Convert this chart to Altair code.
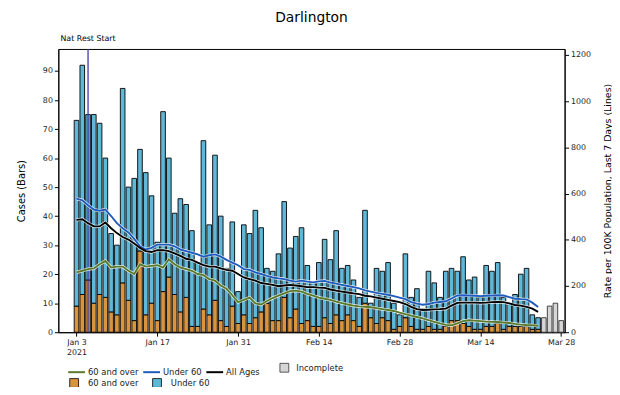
import altair as alt
import pandas as pd

# ---------------- data ----------------
start_date = "2021-01-03"
# complete days Jan 3 .. Mar 23 (81 days)
cases_total = [
    73, 92, 75, 75, 72, 60, 34, 30, 84, 50,
    53, 63, 55, 47, 31, 76, 60, 41, 46, 44,
    35, 24, 66, 37, 61, 40, 22, 38, 14, 37,
    34, 42, 36, 22, 21, 27, 45, 29, 33, 36,
    23, 17, 24, 32, 25, 35, 22, 23, 18, 12,
    42, 10, 22, 21, 24, 10, 6, 27, 12, 15,
    8, 21, 17, 12, 21, 22, 21, 26, 18, 19,
    12, 23, 21, 24, 12, 10, 13, 20, 22, 6, 5,
]
cases_60_over = [
    9, 13, 18, 10, 13, 12, 7, 6, 17, 11,
    4, 28, 6, 10, 4, 14, 19, 13, 7, 12,
    2, 2, 8, 6, 11, 4, 2, 9, 3, 6,
    3, 5, 7, 10, 4, 4, 12, 5, 8, 3,
    4, 2, 2, 5, 3, 6, 4, 6, 4, 2,
    10, 5, 3, 5, 4, 1, 2, 5, 2, 1,
    1, 2, 1, 1, 2, 4, 4, 3, 2, 1,
    1, 2, 2, 3, 1, 2, 2, 2, 2, 1, 1,
]
# incomplete days Mar 24 .. Mar 28
cases_incomplete = [5, 9, 10, 4]

rate_60_over = [
    259, 266, 273, 276, 294, 308, 280, 284, 284, 266,
    252, 294, 284, 287, 290, 280, 315, 294, 280, 273,
    266, 252, 247, 230, 223, 202, 188, 160, 130, 140,
    150, 125, 120, 135, 148, 158, 168, 178, 180, 176,
    166, 158, 150, 145, 140, 132, 126, 120, 115, 112,
    110, 108, 104, 100, 96, 92, 85, 78, 72, 66,
    60, 52, 45, 38, 32, 30, 38, 48, 52, 50,
    48, 46, 45, 44, 42, 40, 36, 33, 31, 30, 28,
]
rate_under_60 = [
    578, 571, 550, 531, 526, 531, 503, 472, 450, 432,
    404, 372, 358, 365, 379, 379, 379, 372, 358, 351,
    344, 337, 327, 333, 337, 327, 313, 301, 290, 273,
    270, 259, 252, 244, 237, 233, 230, 223, 219, 223,
    219, 216, 220, 222, 215, 210, 205, 200, 195, 190,
    181, 176, 170, 166, 162, 156, 150, 143, 130, 124,
    119, 122, 128, 131, 134, 146, 159, 160, 159, 158,
    156, 158, 159, 160, 159, 152, 145, 143, 142, 128, 109,
]
rate_all_ages = [
    486, 489, 472, 458, 458, 475, 450, 429, 412, 401,
    384, 365, 351, 347, 355, 355, 351, 341, 330, 318,
    313, 301, 290, 284, 284, 276, 270, 266, 252, 237,
    230, 223, 213, 209, 205, 199, 202, 205, 202, 199,
    195, 195, 193, 192, 185, 180, 176, 172, 168, 165,
    158, 155, 150, 145, 140, 135, 130, 122, 110, 100,
    96, 97, 99, 100, 102, 115, 127, 128, 128, 128,
    127, 128, 130, 131, 130, 125, 118, 115, 110, 102, 88,
]

x_tick_days = [0, 14, 28, 42, 56, 70, 84]
x_tick_labels = ["Jan 3|2021", "Jan 17", "Jan 31", "Feb 14", "Feb 28", "Mar 14", "Mar 28"]
event_day = [2]
event_label = ["Nat Rest Start"]

bar_series = ["60 and over ", "Under 60 "]
line_series = ["60 and over", "Under 60", "All Ages"]

# ---------------- tables ----------------
n_complete = len(cases_total)
bar_rows = []
for d in range(n_complete):
    bar_rows.append({"day": d, "lo": 0, "hi": cases_60_over[d], "bar_group": bar_series[0]})
    bar_rows.append({"day": d, "lo": cases_60_over[d], "hi": cases_total[d], "bar_group": bar_series[1]})
bars_df = pd.DataFrame(bar_rows)

inc_df = pd.DataFrame({
    "day": list(range(n_complete, n_complete + len(cases_incomplete))),
    "cases": cases_incomplete,
    "status": ["Incomplete"] * len(cases_incomplete),
})

line_rows = []
for name, vals in zip(line_series, [rate_60_over, rate_under_60, rate_all_ages]):
    for d, v in enumerate(vals):
        line_rows.append({"day": d, "rate": v, "line_group": name})
lines_df = pd.DataFrame(line_rows)

event_df = pd.DataFrame({"day": event_day, "label": event_label})

# ---------------- styling ----------------
FONT = "DejaVu Sans"
W, H = 513, 287
XDOM = [-3.15, 84.6]
YL_DOM = [0, 97.6]
YR_DOM = [0, 1226]
C_OVER, C_UNDER, C_INC = "#d8943f", "#5fb8d8", "#d6d6d6"
L_OVER, L_UNDER, L_ALL = "#587a2a", "#1f5bbd", "#000000"

lab_arr = "[" + ",".join("'" + s + "'" for s in x_tick_labels) + "]"
x_axis = alt.Axis(values=x_tick_days, labelExpr="split(" + lab_arr + "[round(datum.value/14)], '|')",
                  title=None, grid=False, tickSize=4, labelPadding=2, labelFontSize=8,
                  labelLineHeight=11, labelBaseline="top")
x_scale = alt.Scale(domain=XDOM, nice=False, zero=False)

yl_axis = alt.Axis(values=list(range(0, 91, 10)), title="Cases (Bars)", grid=False,
                   tickSize=4, labelFontSize=8, titleFontSize=10, titleFontWeight="normal",
                   titlePadding=16)
yl_scale = alt.Scale(domain=YL_DOM, nice=False)
yr_axis = alt.Axis(values=list(range(0, 1201, 200)), orient="right", grid=False, format="d",
                   title="Rate per 100K Population, Last 7 Days (Lines)", titleAngle=270,
                   titleBaseline="bottom",
                   tickSize=4, labelFontSize=8, titleFontSize=9.5, titleFontWeight="normal",
                   titlePadding=22)
yr_scale = alt.Scale(domain=YR_DOM, nice=False)

bars = alt.Chart(bars_df).transform_calculate(
    x0="datum.day - 0.4", x1="datum.day + 0.4"
).mark_bar(stroke="black", strokeWidth=0.9).encode(
    x=alt.X("x0:Q", scale=x_scale, axis=x_axis),
    x2="x1:Q",
    y=alt.Y("hi:Q", scale=yl_scale, axis=yl_axis),
    y2="lo:Q",
    fill=alt.Fill("bar_group:N", scale=alt.Scale(domain=bar_series, range=[C_OVER, C_UNDER]),
                  legend=alt.Legend(orient="none", legendX=11, legendY=333, direction="horizontal",
                                    columns=2, title=None, symbolType="square", symbolSize=80,
                                    symbolStrokeColor="black", symbolStrokeWidth=0.8,
                                    labelFontSize=8.5, labelOffset=9, columnPadding=11,
                                    padding=0)),
)

incomplete = alt.Chart(inc_df).transform_calculate(
    x0="datum.day - 0.4", x1="datum.day + 0.4", base="0"
).mark_bar(stroke="#333333", strokeWidth=0.9).encode(
    x=alt.X("x0:Q", scale=x_scale, axis=x_axis),
    x2="x1:Q",
    y=alt.Y("cases:Q", scale=yl_scale, axis=yl_axis),
    y2="base:Q",
    fill=alt.Fill("status:N", scale=alt.Scale(domain=["Incomplete"], range=[C_INC]),
                  legend=alt.Legend(orient="none", legendX=224, legendY=318, direction="horizontal",
                                    title=None, symbolType="square", symbolSize=80,
                                    symbolStrokeColor="#333333", symbolStrokeWidth=0.8,
                                    labelFontSize=8.5, labelOffset=7, padding=0)),
)

rule = alt.Chart(event_df).mark_rule(color="#3c3ca8", strokeWidth=1.3).encode(
    x=alt.X("day:Q", scale=x_scale, axis=x_axis),
    y=alt.value(0), y2=alt.value(H),
)
rule_text = alt.Chart(event_df).mark_text(font=FONT, fontSize=8, baseline="middle",
                                          align="center", color="black").encode(
    x=alt.X("day:Q", scale=x_scale, axis=x_axis),
    y=alt.value(-10),
    text="label:N",
)

left = alt.layer(bars, incomplete, rule, rule_text).resolve_scale(fill="independent")

halo = alt.Chart(lines_df).mark_line(stroke="white", strokeWidth=3.2, opacity=0.85).encode(
    x=alt.X("day:Q", scale=x_scale, axis=x_axis),
    y=alt.Y("rate:Q", scale=yr_scale, axis=yr_axis),
    detail="line_group:N",
)
lines = alt.Chart(lines_df).mark_line(strokeWidth=1.9).encode(
    x=alt.X("day:Q", scale=x_scale, axis=x_axis),
    y=alt.Y("rate:Q", scale=yr_scale, axis=yr_axis),
    stroke=alt.Stroke("line_group:N", scale=alt.Scale(domain=line_series, range=[L_OVER, L_UNDER, L_ALL]),
                      legend=alt.Legend(orient="none", legendX=9, legendY=318, direction="horizontal",
                                        columns=3, title=None, symbolType="stroke", symbolSize=289,
                                        symbolStrokeWidth=2, labelFontSize=8.5, labelOffset=2,
                                        columnPadding=0, padding=0)),
)
right = alt.layer(halo, lines)

chart = alt.layer(left, right).resolve_scale(y="independent").properties(
    width=W, height=H,
    title=alt.Title("Darlington", fontSize=14, fontWeight="normal", font=FONT, anchor="middle", offset=10),
    autosize=alt.AutoSizeParams(type="none"),
    padding={"left": 51, "top": 39, "right": 48, "bottom": 53},
).configure_view(stroke="black", strokeWidth=1).configure_axis(
    labelFont=FONT, titleFont=FONT, domainColor="black", tickColor="black",
    labelColor="#222222", titleColor="black",
).configure_legend(labelFont=FONT, labelColor="#222222")

chart.save("out.html", embed_options={"renderer": "svg", "actions": False})
